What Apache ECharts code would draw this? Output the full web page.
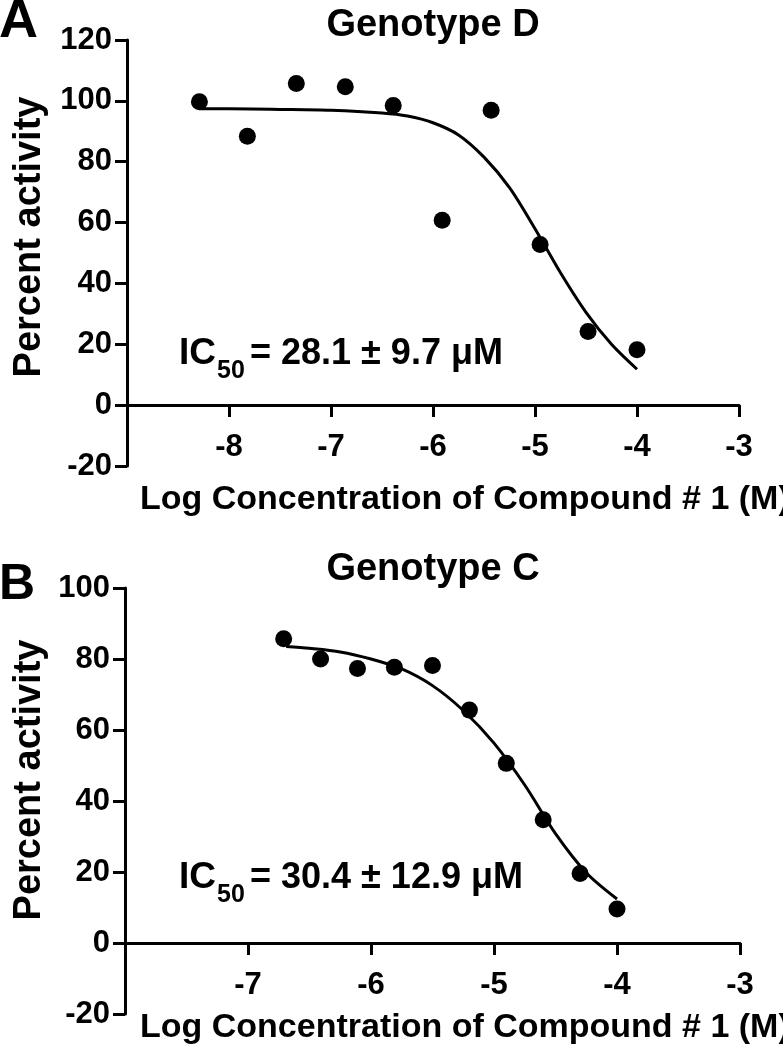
<!DOCTYPE html>
<html>
<head>
<meta charset="utf-8">
<script src="https://cdn.jsdelivr.net/npm/echarts@6/dist/echarts.min.js"></script>
<style>
html,body{margin:0;padding:0;background:#fff;}
#chart{width:783px;height:1050px;}
</style>
</head>
<body>
<div id="chart"></div>
<script>
// ---- Panel A: Genotype D ----
const logConcA = [-8.29, -7.82, -7.34, -6.86, -6.39, -5.91, -5.43, -4.95, -4.48, -4.00];
const activityA = [99.7, 88.4, 105.7, 104.6, 98.5, 60.8, 96.9, 52.8, 24.2, 18.2];
// fitted curve
const fitXA = [-8.29, -8.0, -7.5, -7.0, -6.5, -6.25, -6.0, -5.75, -5.5, -5.25, -5.0, -4.75, -4.5, -4.25, -4.0];
const fitYA = [97.4, 97.4, 97.2, 96.9, 96.0, 95.0, 92.8, 88.8, 81.5, 71.5, 58.0, 43.5, 30.5, 20.0, 11.8];
// ---- Panel B: Genotype C ----
const logConcB = [-6.71, -6.41, -6.11, -5.81, -5.50, -5.20, -4.90, -4.60, -4.30, -4.00];
const activityB = [85.7, 80.0, 77.3, 77.7, 78.2, 65.6, 50.6, 34.7, 19.6, 9.6];
const fitXB = [-6.69, -6.5, -6.25, -6.0, -5.75, -5.5, -5.25, -5.0, -4.75, -4.5, -4.25, -4.0];
const fitYB = [83.5, 83.0, 82.0, 80.0, 77.2, 72.5, 65.5, 56.3, 44.5, 30.8, 19.8, 12.4];
// ---- texts / ticks ----
const titles = ['Genotype D', 'Genotype C'];
const panelLetters = ['A', 'B'];
const ic50Values = ['= 28.1 \u00b1 9.7 \u03bcM', '= 30.4 \u00b1 12.9 \u03bcM'];
const xAxisName = 'Log Concentration of Compound # 1 (M)';
const yAxisName = 'Percent activity';
const xRangeA = [-9, -3];
const xRangeB = [-8, -3];
const yRangeA = [-20, 120];
const yRangeB = [-20, 100];

const FONT = '"Liberation Sans", Arial, sans-serif';
const chart = echarts.init(document.getElementById('chart'), null, {renderer: 'canvas'});

function xAxisDef(grid, range, offset) {
  return {
    gridIndex: grid, type: 'value', min: range[0], max: range[1], interval: 1,
    position: 'bottom', offset: offset,
    axisLine: {onZero: false, lineStyle: {color: '#000', width: 3}},
    axisTick: {length: 12, lineStyle: {color: '#000', width: 3}},
    axisLabel: {showMinLabel: false, margin: 27, color: '#000', fontSize: 31, fontWeight: 'bold', fontFamily: FONT},
    splitLine: {show: false}
  };
}
function yAxisDef(grid, range) {
  return {
    gridIndex: grid, type: 'value', min: range[0], max: range[1], interval: 20,
    axisLine: {show: true, onZero: false, lineStyle: {color: '#000', width: 3}},
    axisTick: {show: true, length: 12, lineStyle: {color: '#000', width: 3}},
    axisLabel: {margin: 15, color: '#000', fontSize: 31, fontWeight: 'bold', fontFamily: FONT},
    splitLine: {show: false}
  };
}
function txt(text, x, y, size, align, vAlign, rot) {
  return {
    type: 'text', x: x, y: y, rotation: rot || 0, silent: true,
    style: {text: text, font: 'bold ' + size + 'px ' + FONT, fill: '#000',
            textAlign: align || 'left', textVerticalAlign: vAlign || 'middle'}
  };
}

const option = {
  animation: false,
  backgroundColor: '#fff',
  grid: [
    {left: 127, top: 40, width: 612, height: 426},
    {left: 125, top: 588, width: 615, height: 426}
  ],
  xAxis: [xAxisDef(0, xRangeA, -61), xAxisDef(1, xRangeB, -71)],
  yAxis: [yAxisDef(0, yRangeA), yAxisDef(1, yRangeB)],
  series: [
    {type: 'line', xAxisIndex: 0, yAxisIndex: 0, data: fitXA.map((x, i) => [x, fitYA[i]]),
     smooth: 0.3, showSymbol: false, lineStyle: {color: '#000', width: 3}},
    {type: 'scatter', xAxisIndex: 0, yAxisIndex: 0, data: logConcA.map((x, i) => [x, activityA[i]]),
     symbol: 'circle', symbolSize: 17, itemStyle: {color: '#000', opacity: 1}},
    {type: 'line', xAxisIndex: 1, yAxisIndex: 1, data: fitXB.map((x, i) => [x, fitYB[i]]),
     smooth: 0.3, showSymbol: false, lineStyle: {color: '#000', width: 3}},
    {type: 'scatter', xAxisIndex: 1, yAxisIndex: 1, data: logConcB.map((x, i) => [x, activityB[i]]),
     symbol: 'circle', symbolSize: 17, itemStyle: {color: '#000', opacity: 1}}
  ],
  graphic: [
    txt(panelLetters[0], -1, 22, 54, 'left', 'middle'),
    txt(panelLetters[1], -1, 585, 50, 'left', 'middle'),
    txt(titles[0], 433, 26, 38, 'center', 'middle'),
    txt(titles[1], 433, 570, 38, 'center', 'middle'),
    txt(xAxisName, 140, 500, 34, 'left', 'middle'),
    txt(xAxisName, 140, 1028, 34, 'left', 'middle'),
    txt(yAxisName, 30, 237, 38, 'center', 'middle', Math.PI / 2),
    txt(yAxisName, 30, 780, 38, 'center', 'middle', Math.PI / 2),
    txt('IC', 179, 354, 37, 'left', 'middle'),
    txt('50', 217, 371, 25, 'left', 'middle'),
    txt(ic50Values[0], 250, 354, 36, 'left', 'middle'),
    txt('IC', 179, 878, 37, 'left', 'middle'),
    txt('50', 217, 895, 25, 'left', 'middle'),
    txt(ic50Values[1], 250, 878, 36, 'left', 'middle')
  ]
};
chart.setOption(option);
</script>
</body>
</html>
